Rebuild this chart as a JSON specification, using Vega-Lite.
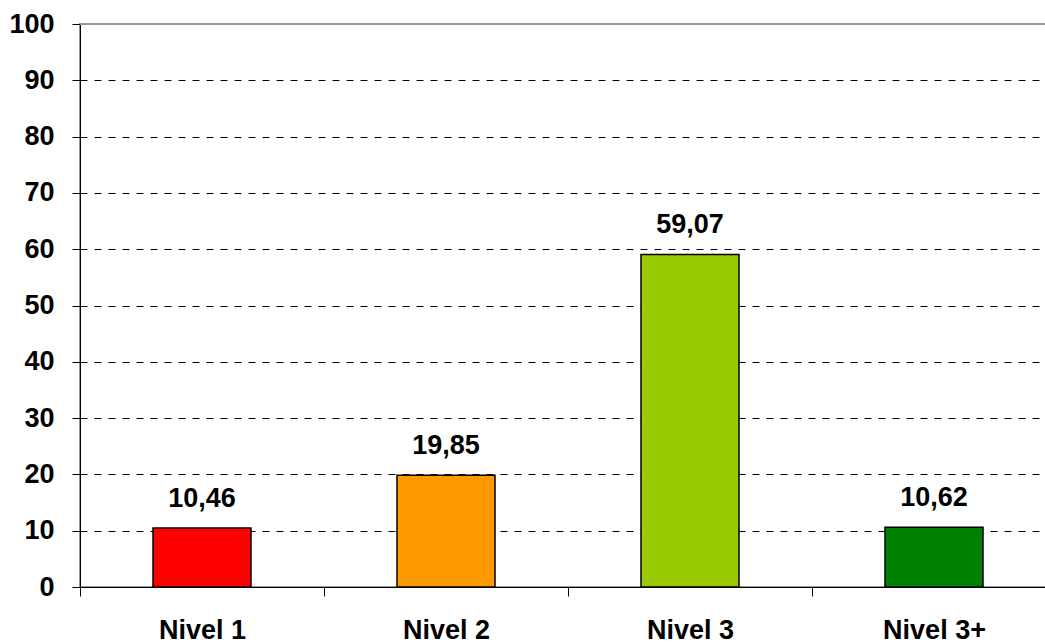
{
  "$schema": "https://vega.github.io/schema/vega-lite/v6.json",
  "autosize": "none",
  "width": 976,
  "height": 563,
  "padding": {"left": 80, "top": 24, "right": 0, "bottom": 57},
  "background": "white",
  "config": {
    "locale": {"number": {"decimal": ",", "thousands": ".", "grouping": [3], "currency": ["", " €"]}},
    "view": {"stroke": "#999999", "strokeWidth": 2},
    "font": "Liberation Sans"
  },
  "data": {
    "values": [
      {"nivel": "Nivel 1", "valor": 10.46, "color": "#FF0000"},
      {"nivel": "Nivel 2", "valor": 19.85, "color": "#FF9900"},
      {"nivel": "Nivel 3", "valor": 59.07, "color": "#99CC00"},
      {"nivel": "Nivel 3+", "valor": 10.62, "color": "#008000"}
    ]
  },
  "layer": [
    {
      "mark": {"type": "bar", "size": 98, "stroke": "black", "strokeWidth": 1.5},
      "encoding": {
        "x": {
          "field": "nivel",
          "type": "nominal",
          "sort": null,
          "scale": {"paddingInner": 0, "paddingOuter": 0},
          "axis": {
            "title": null,
            "labelAngle": 0,
            "labelFont": "Liberation Sans",
            "labelFontSize": 27,
            "labelFontWeight": "bold",
            "labelColor": "black",
            "labelBaseline": "alphabetic",
            "labelPadding": 42,
            "tickBand": "extent",
            "tickSize": 9,
            "tickColor": "black",
            "domainColor": "black",
            "domainWidth": 1,
            "grid": false
          }
        },
        "y": {
          "field": "valor",
          "type": "quantitative",
          "scale": {"domain": [0, 100]},
          "axis": {
            "title": null,
            "values": [0, 10, 20, 30, 40, 50, 60, 70, 80, 90, 100],
            "labelFont": "Liberation Sans",
            "labelFontSize": 27,
            "labelFontWeight": "bold",
            "labelColor": "black",
            "labelPadding": 18,
            "tickSize": 8,
            "tickColor": "black",
            "domainColor": "black",
            "domainWidth": 1,
            "grid": true,
            "gridColor": "black",
            "gridDash": [7, 7],
            "gridWidth": 1
          }
        },
        "color": {"field": "color", "type": "nominal", "scale": null, "legend": null}
      }
    },
    {
      "mark": {"type": "text", "baseline": "alphabetic", "dy": -21, "fontSize": 27, "fontWeight": "bold", "font": "Liberation Sans", "color": "black"},
      "encoding": {
        "x": {"field": "nivel", "type": "nominal", "sort": null},
        "y": {"field": "valor", "type": "quantitative"},
        "text": {"field": "valor", "type": "quantitative", "format": ".2f"}
      }
    },
    {
      "mark": {"type": "rule", "color": "#999999", "strokeWidth": 2},
      "encoding": {
        "y": {"datum": 100, "type": "quantitative"}
      }
    }
  ]
}
